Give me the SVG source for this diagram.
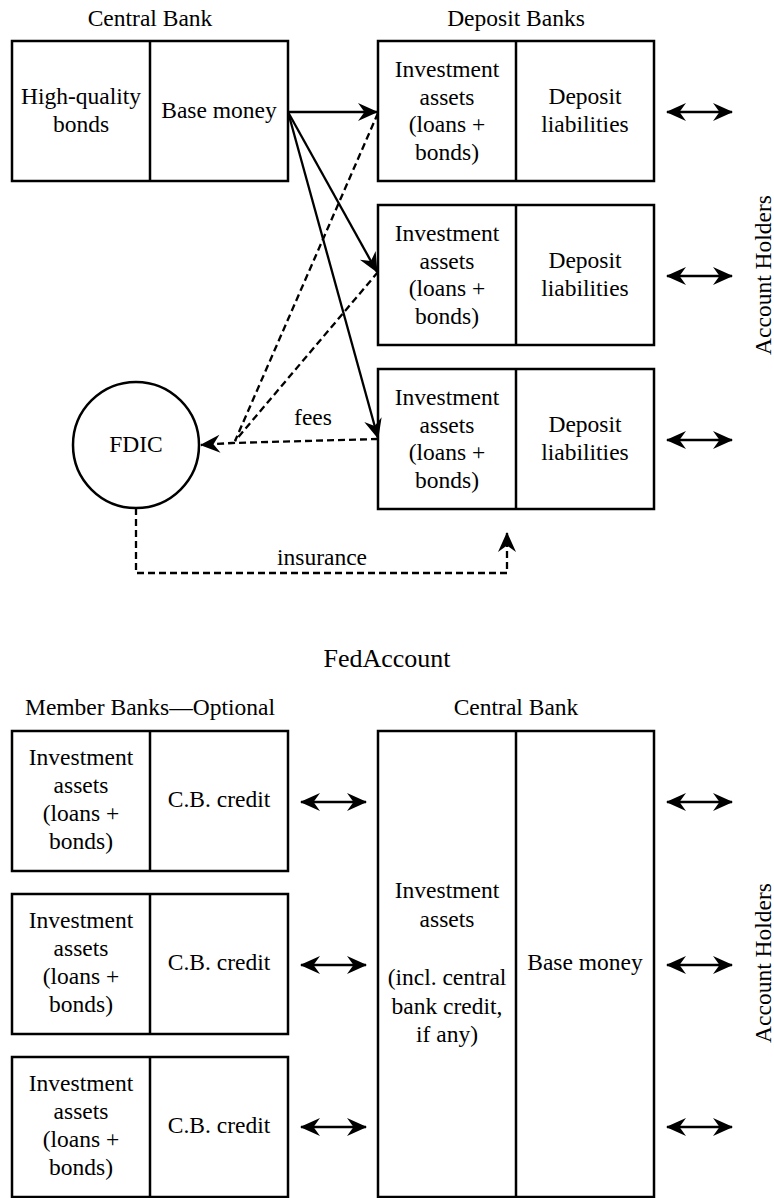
<svg xmlns="http://www.w3.org/2000/svg" width="774" height="1198" viewBox="0 0 774 1198">
<style>
  text { font-family: "Liberation Serif", "DejaVu Serif", "Times New Roman", Times, serif; font-size: 23.5px; fill: #000; text-anchor: middle; }
  .title { font-size: 26px; }
  .box { fill: #fff; stroke: #000; stroke-width: 2.5; }
  .div { stroke: #000; stroke-width: 2.5; }
  .con { fill: none; stroke: #000; stroke-width: 2.3; }
  .dash { stroke-dasharray: 7 4; }
</style>
<defs>
  <marker id="ah" viewBox="-22 -11 24 22" refX="0" refY="0" markerWidth="24" markerHeight="22" markerUnits="userSpaceOnUse" orient="auto-start-reverse">
    <path d="M1,0 L-19,-9 L-12.5,0 L-19,9 Z" fill="#000"/>
  </marker>
</defs>

<g font-family="Liberation Serif, DejaVu Serif, serif">
<text x="150" y="26">Central Bank</text>
<text x="516" y="26">Deposit Banks</text>

<g id="central-bank-top">
  <rect class="box" x="12" y="41" width="276" height="140"/>
  <line class="div" x1="150" y1="41" x2="150" y2="181"/>
  <text x="81" y="104">High-quality</text>
  <text x="81" y="132">bonds</text>
  <text x="219" y="118">Base money</text>
</g>

<g id="deposit-bank-1">
  <rect class="box" x="378" y="41" width="276" height="140"/>
  <line class="div" x1="516" y1="41" x2="516" y2="181"/>
  <text x="447" y="77">Investment</text>
  <text x="447" y="104.5">assets</text>
  <text x="447" y="132">(loans +</text>
  <text x="447" y="159.5">bonds)</text>
  <text x="585" y="104">Deposit</text>
  <text x="585" y="132">liabilities</text>
</g>

<g id="deposit-bank-2">
  <rect class="box" x="378" y="205" width="276" height="140"/>
  <line class="div" x1="516" y1="205" x2="516" y2="345"/>
  <text x="447" y="241">Investment</text>
  <text x="447" y="268.5">assets</text>
  <text x="447" y="296">(loans +</text>
  <text x="447" y="323.5">bonds)</text>
  <text x="585" y="268">Deposit</text>
  <text x="585" y="296">liabilities</text>
</g>

<g id="deposit-bank-3">
  <rect class="box" x="378" y="369" width="276" height="140"/>
  <line class="div" x1="516" y1="369" x2="516" y2="509"/>
  <text x="447" y="405">Investment</text>
  <text x="447" y="432.5">assets</text>
  <text x="447" y="460">(loans +</text>
  <text x="447" y="487.5">bonds)</text>
  <text x="585" y="432">Deposit</text>
  <text x="585" y="460">liabilities</text>
</g>

<g id="fdic">
  <circle class="box" cx="136" cy="445" r="63"/>
  <text x="136" y="452">FDIC</text>
</g>

<g id="account-holders-top">
  <text transform="translate(771,275) rotate(-90)" x="0" y="0">Account Holders</text>
</g>

<text class="title" x="387" y="667">FedAccount</text>
<text x="150" y="715">Member Banks—Optional</text>
<text x="516" y="715">Central Bank</text>

<g id="member-bank-1">
  <rect class="box" x="12" y="731" width="276" height="140"/>
  <line class="div" x1="150" y1="731" x2="150" y2="871"/>
  <text x="81" y="764.5">Investment</text>
  <text x="81" y="792.5">assets</text>
  <text x="81" y="820.5">(loans +</text>
  <text x="81" y="848.5">bonds)</text>
  <text x="219" y="807">C.B. credit</text>
</g>

<g id="member-bank-2">
  <rect class="box" x="12" y="894" width="276" height="140"/>
  <line class="div" x1="150" y1="894" x2="150" y2="1034"/>
  <text x="81" y="927.5">Investment</text>
  <text x="81" y="955.5">assets</text>
  <text x="81" y="983.5">(loans +</text>
  <text x="81" y="1011.5">bonds)</text>
  <text x="219" y="970">C.B. credit</text>
</g>

<g id="member-bank-3">
  <rect class="box" x="12" y="1057" width="276" height="140"/>
  <line class="div" x1="150" y1="1057" x2="150" y2="1197"/>
  <text x="81" y="1090.5">Investment</text>
  <text x="81" y="1118.5">assets</text>
  <text x="81" y="1146.5">(loans +</text>
  <text x="81" y="1174.5">bonds)</text>
  <text x="219" y="1133">C.B. credit</text>
</g>

<g id="central-bank-bottom">
  <rect class="box" x="378" y="731" width="276" height="466"/>
  <line class="div" x1="516" y1="731" x2="516" y2="1197"/>
  <text x="447" y="898">Investment</text>
  <text x="447" y="927">assets</text>
  <text x="447" y="985">(incl. central</text>
  <text x="447" y="1013.5">bank credit,</text>
  <text x="447" y="1042">if any)</text>
  <text x="585" y="970">Base money</text>
</g>

<g id="account-holders-bottom">
  <text transform="translate(771,963) rotate(-90)" x="0" y="0">Account Holders</text>
</g>

<g id="connectors">
  <line class="con" x1="288" y1="112" x2="377" y2="112" marker-end="url(#ah)"/>
  <line class="con" x1="288" y1="112" x2="377" y2="272" marker-end="url(#ah)"/>
  <line class="con" x1="288" y1="112" x2="378" y2="438" marker-end="url(#ah)"/>
  <polyline class="con dash" points="378,113 235,441"/>
  <polyline class="con dash" points="378,272 235,441"/>
  <polyline class="con dash" points="378,439 232,443 201,445" marker-end="url(#ah)"/>
  <text x="313" y="425">fees</text>
  <polyline class="con dash" points="136,508 136,573 507,573 507,533" marker-end="url(#ah)"/>
  <text x="322" y="565">insurance</text>
  <line class="con" x1="667" y1="112" x2="732" y2="112" marker-start="url(#ah)" marker-end="url(#ah)"/>
  <line class="con" x1="667" y1="276" x2="732" y2="276" marker-start="url(#ah)" marker-end="url(#ah)"/>
  <line class="con" x1="667" y1="440" x2="732" y2="440" marker-start="url(#ah)" marker-end="url(#ah)"/>
  <line class="con" x1="301" y1="802" x2="366" y2="802" marker-start="url(#ah)" marker-end="url(#ah)"/>
  <line class="con" x1="301" y1="965" x2="366" y2="965" marker-start="url(#ah)" marker-end="url(#ah)"/>
  <line class="con" x1="301" y1="1127" x2="366" y2="1127" marker-start="url(#ah)" marker-end="url(#ah)"/>
  <line class="con" x1="667" y1="802" x2="732" y2="802" marker-start="url(#ah)" marker-end="url(#ah)"/>
  <line class="con" x1="667" y1="965" x2="732" y2="965" marker-start="url(#ah)" marker-end="url(#ah)"/>
  <line class="con" x1="667" y1="1127" x2="732" y2="1127" marker-start="url(#ah)" marker-end="url(#ah)"/>
</g>
</g>
</svg>
